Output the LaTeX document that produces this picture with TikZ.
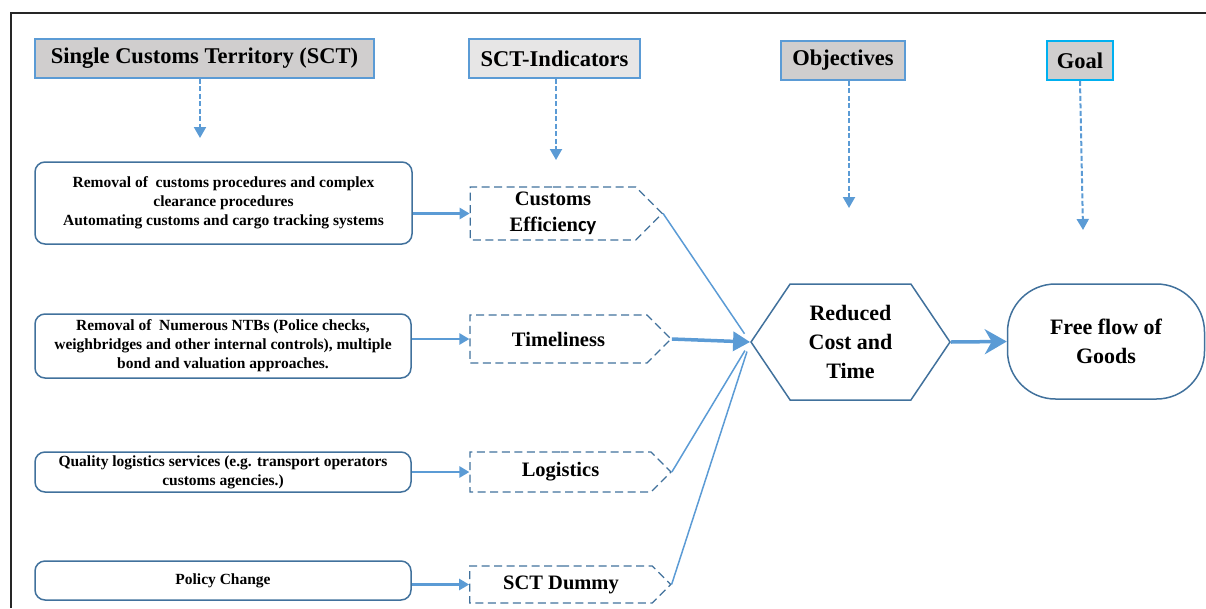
\documentclass[tikz,border=0pt]{standalone}
\usepackage{fontspec}
\setmainfont{Liberation Serif}
\newfontfamily\calfont{Carlito}
\usepackage{tikz}
\usetikzlibrary{calc,positioning,arrows.meta,shapes.symbols,shapes.misc}
\definecolor{boxblue}{HTML}{41719C}
\definecolor{arrblue}{HTML}{5B9BD5}
\definecolor{hdgray}{HTML}{D0CECE}
\definecolor{hdlight}{HTML}{E7E6E6}
\definecolor{goalcyan}{HTML}{00B0F0}
\tikzset{hd/.style={draw=arrblue,line width=1.6pt,fill=hdgray,minimum height=39pt,inner sep=0pt,font=\bfseries\fontsize{22.5}{26}\selectfont},
lb/.style={draw=boxblue,line width=1.5pt,rounded corners=10pt,align=center,inner sep=0pt,font=\bfseries\fontsize{15.5}{19}\selectfont},
ind/.style={signal,signal to=east,signal pointer angle=90,draw=boxblue,dash pattern=on 8pt off 4.5pt,line width=1.2pt,align=center,inner sep=0pt,font=\bfseries\fontsize{20.5}{26}\selectfont}}

\begin{document}
\begin{tikzpicture}[x=1pt,y=-1pt,dasharr/.style={arrblue,line width=2pt,dash pattern=on 5pt off 2.5pt,-{Triangle[length=11pt,width=12pt]}},solarr/.style={arrblue,line width=2.5pt,-{Triangle[length=10pt,width=11pt]}},conline/.style={arrblue,line width=1.5pt,shorten >=10pt},big/.style={draw=boxblue,line width=1.5pt,align=center,inner sep=0pt,font=\bfseries\fontsize{22}{29}\selectfont}]
		\useasboundingbox (0,0) rectangle (1206,608);
		\draw[line width=2.2pt,black!85] (11,608) -- (11,13) -- (1206,13);

		% column headers
		\node[hd,minimum width=339pt] (sct) at (204.5,58.5) {Single Customs Territory (SCT)};
		\node[hd,fill=hdlight,minimum width=171pt] (indi) at (554.5,58.5) {SCT-Indicators};
		\node[hd,minimum width=124pt] (obj) at (843,60.5) {Objectives};
		\node[hd,draw=goalcyan,minimum width=66pt] (goal) at (1080,60.5) {Goal};

		\coordinate (sctarr) at (200,138);
		\coordinate (indarr) at (556,160);
		\coordinate (objarr) at (849,208);
		\coordinate (goalarr) at (1083,230);
		\draw[dasharr] (sct.south -| sctarr) -- (sctarr);
		\draw[dasharr] (indi.south -| indarr) -- (indarr);
		\draw[dasharr] (obj.south -| objarr) -- (objarr);
		\draw[dasharr] (goal.south) -- (goalarr);

		% left boxes
		\node[lb,minimum width=377pt,minimum height=82pt] (b1) at (223.5,203) {Removal of\ \ customs procedures and complex\\clearance procedures\\Automating customs and cargo tracking systems};
		\node[lb,minimum width=376pt,minimum height=64pt] (b2) at (223,346) {Removal of\ \ Numerous NTBs (Police checks,\\weighbridges and other internal controls), multiple\\bond and valuation approaches.};
		\node[lb,minimum width=376pt,minimum height=40pt] (b3) at (223,472) {Quality logistics services (e.g. transport operators\\customs agencies.)};
		\node[lb,minimum width=376pt,minimum height=39pt] (b4) at (223,580.5) {Policy Change};

		% indicators
		\node[ind,minimum width=192pt,minimum height=53pt] (ce) at (553,213.5) {Customs\\Efficien{\calfont cy}};
		\node[ind,minimum width=201pt,minimum height=48pt] (tml) at (558.5,339) {Timeliness};
		\node[ind,minimum width=201pt,minimum height=40pt] (lgs) at (560.5,472) {Logistics};
		\node[ind,minimum width=201pt,minimum height=37pt] (dum) at (561,584.5) {SCT Dummy};

		\draw[solarr] (b1.east |- ce.west) -- (ce.west);
		\draw[solarr] (b2.east |- tml.west) -- (tml.west);
		\draw[solarr] (b3.east |- lgs.west) -- (lgs.west);
		\draw[solarr] (b4.east |- dum.west) -- (dum.west);

		% objective and goal
		\node[big,signal,signal to=east and west,signal pointer angle=112,minimum width=199pt,minimum height=116pt] (hex) at (850.5,342) {Reduced\\Cost and\\Time};
		\node[big,rounded corners=48pt,minimum width=197pt,minimum height=115pt] (goods) at (1106,341.5) {Free flow of\\Goods};

		\draw[conline] (ce.east) -- (hex.west);
		\draw[conline] (lgs.east) -- (hex.west);
		\draw[conline] (dum.east) -- (hex.west);
		\draw[arrblue,line width=3.5pt,-{Triangle[length=17pt,width=19pt]}] (tml.east) -- (hex.west);
		\draw[arrblue,line width=3.5pt,-{Stealth[length=22pt,width=25pt,inset=7pt]}] (hex.east) -- (goods.west);
	\end{tikzpicture}
\end{document}
